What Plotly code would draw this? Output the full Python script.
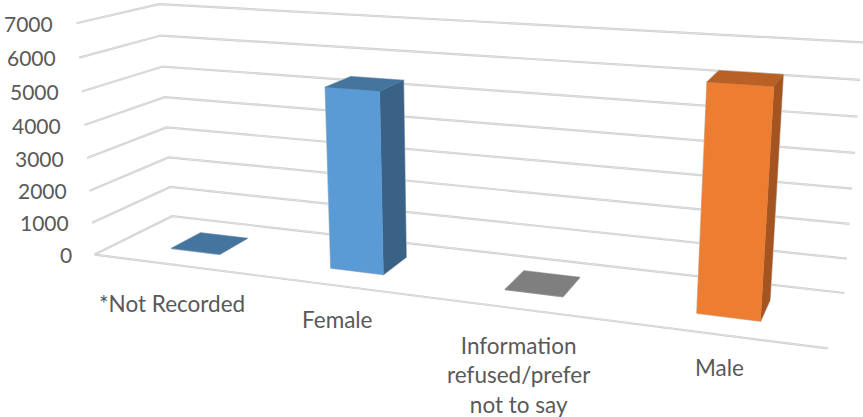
import numpy as np
import plotly.graph_objects as go

# Chart data
categories = ["*Not Recorded", "Female", "Information<br>refused/prefer<br>not to say", "Male"]
values = [6, 5380, 10, 6250]
value_ticks = [0, 1000, 2000, 3000, 4000, 5000, 6000, 7000]

# Face colours per bar: front, top, side
front_colors = ["#5b9bd5", "#5b9bd5", "#7f7f7f", "#ed7d31"]
top_colors = ["#44759f", "#44759f", "#7f7f7f", "#b86025"]
side_colors = ["#396286", "#396286", "#6b6b6b", "#a35420"]

# Box proportions of the 3D plot
BAR_WIDTH = 0.078
DEPTH_FRONT = 0.305
DEPTH_BACK = 0.70
AXIS_MAX = value_ticks[-1]

# Where the plot box corners land on the page; the camera is solved from these
WALL_FRONT_LEFT = [(95, 254), (92, 223), (89, 191), (87, 158), (84, 125), (82, 92), (79, 58), (77, 23)]
WALL_BACK_LEFT = [(172, 216), (171, 187), (168, 157), (166, 128), (165, 97), (163, 67), (162, 35), (158, 4)]
WALL_BACK_RIGHT = [(844, 293), (847, 259), (850, 224), (852, 189), (855, 153), (857, 117), (860, 79)]
FLOOR_FRONT_RIGHT = (828, 348)


def solve_camera():
    anchors = []
    for t, p in zip(value_ticks, WALL_FRONT_LEFT):
        anchors.append((0, 0, t / AXIS_MAX, *p))
    for t, p in zip(value_ticks, WALL_BACK_LEFT):
        anchors.append((0, 1, t / AXIS_MAX, *p))
    for t, p in zip(value_ticks, WALL_BACK_RIGHT):
        anchors.append((1, 1, t / AXIS_MAX, *p))
    anchors.append((1, 0, 0, *FLOOR_FRONT_RIGHT))
    rows = []
    for u, w, v, x, y in anchors:
        h = [u, w, v, 1]
        rows.append(h + [0, 0, 0, 0] + [-x * a for a in h])
        rows.append([0, 0, 0, 0] + h + [-y * a for a in h])
    return np.linalg.svd(np.array(rows, float))[2][-1].reshape(3, 4)


CAMERA = solve_camera()


def project(u, w, value):
    r = CAMERA @ np.array([u, w, value / AXIS_MAX, 1.0])
    return r[:2] / r[2]


def polyline(points):
    xy = np.array([project(*p) for p in points])
    return xy[:, 0], xy[:, 1]


fig = go.Figure()


def add_line(points, color, width):
    x, y = polyline(points)
    fig.add_trace(go.Scatter(x=x, y=y, mode="lines", hoverinfo="skip",
                             line=dict(color=color, width=width)))


def add_rim(points):
    # soft pale rim around the outside of a bar
    x, y = polyline(points + points[:1])
    fig.add_trace(go.Scatter(x=x, y=y, mode="lines", hoverinfo="skip",
                             line=dict(color="#cfcfcf", width=1.4)))


def add_face(points, color):
    x, y = polyline(points + points[:1])
    fig.add_trace(go.Scatter(x=x, y=y, mode="lines", fill="toself", fillcolor=color,
                             hoverinfo="skip", line=dict(color=color, width=0.3)))


# Gridlines run along the left wall and across the back wall
for t in value_ticks:
    path = [(0, 0, t), (0, 1, t), (1, 1, t)]
    add_line(path, "#cdcdcd", 2.2)
    add_line(path, "#efefef", 0.6)
add_line([(0, 0, 0), (1, 0, 0)], "#cdcdcd", 2.2)
add_line([(0, 0, 0), (1, 0, 0)], "#efefef", 0.6)

# Bars
for i, value in enumerate(values):
    c = (i + 0.5) / len(values)
    a, b = c - BAR_WIDTH / 2, c + BAR_WIDTH / 2
    f, k = DEPTH_FRONT, DEPTH_BACK
    side = [(b, f, 0), (b, k, 0), (b, k, value), (b, f, value)]
    front = [(a, f, 0), (b, f, 0), (b, f, value), (a, f, value)]
    top = [(a, f, value), (b, f, value), (b, k, value), (a, k, value)]
    for face in (side, front, top):
        add_rim(face)
    add_face(side, side_colors[i])
    add_face(front, front_colors[i])
    add_face(top, top_colors[i])

FAMILY = "Lato, Carlito, sans-serif"

# Value axis labels sit just left of the front wall edge
for t in value_ticks:
    x, y = project(0, 0, t)
    fig.add_annotation(x=x - 21, y=y, text=str(t), showarrow=False, xanchor="right",
                       yanchor="middle", font=dict(family=FAMILY, size=21, color="#595959"))

# Category labels
LABEL_CENTRES = [(172, 303), (337, 319), (519, 375), (719, 367)]
for name, (x, y) in zip(categories, LABEL_CENTRES):
    fig.add_annotation(x=x, y=y, text=name, showarrow=False, xanchor="center",
                       yanchor="middle", align="center",
                       font=dict(family=FAMILY, size=22.5, color="#595959"))

fig.update_layout(
    width=863, height=417, margin=dict(l=0, r=0, t=0, b=0),
    paper_bgcolor="white", plot_bgcolor="white", showlegend=False,
    xaxis=dict(visible=False, range=[0, 863], fixedrange=True),
    yaxis=dict(visible=False, range=[417, 0], fixedrange=True),
)
fig.write_html("out.html", config=dict(displayModeBar=False))
